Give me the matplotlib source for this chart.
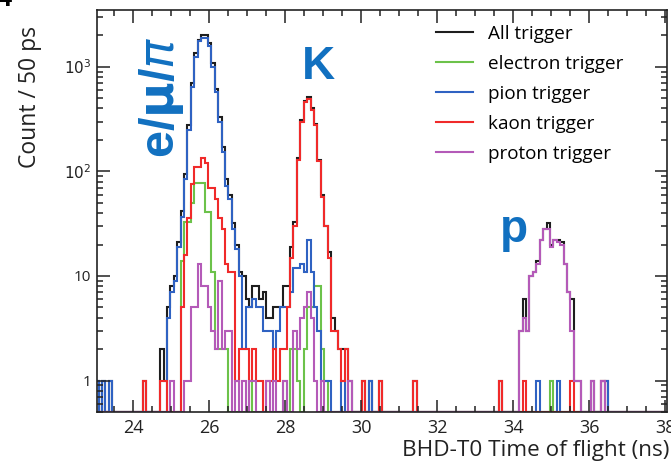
import numpy as np
import matplotlib.pyplot as plt
from matplotlib.lines import Line2D
from matplotlib.ticker import FixedLocator, FixedFormatter, MultipleLocator, LogLocator, NullFormatter

plt.rcParams['font.family'] = ['Open Sans', 'DejaVu Sans']

# histogram binning (ns)
t_start = 23.0
bin_width = 0.09

# counts per bin
all_trig = [
    1, 0, 1, 0, 1, 0, 0, 0, 0, 0,
    0, 0, 0, 0, 1, 0, 0, 0, 0, 2,
    1, 5, 8, 10, 21, 42, 95, 280, 700, 1350,
    1800, 2000, 2000, 1700, 1100, 620, 330, 170, 85, 60,
    32, 20, 11, 10, 6, 5, 8, 8, 6, 7,
    4, 4, 5, 5, 5, 8, 8, 19, 33, 135,
    310, 470, 510, 400, 285, 130, 60, 30, 17, 4,
    3, 2, 2, 2, 1, 0, 0, 0, 1, 0,
    1, 0, 0, 1, 0, 0, 0, 0, 0, 0,
    0, 0, 0, 1, 0, 0, 0, 0, 0, 0,
    0, 0, 0, 0, 0, 0, 0, 0, 0, 0,
    0, 0, 0, 0, 0, 0, 0, 0, 1, 0,
    0, 0, 0, 0, 3, 6, 3, 10, 11, 14,
    22, 28, 32, 20, 22, 22, 21, 13, 7, 6,
    1, 1, 0, 0, 0, 1, 0, 0, 1, 1,
    0, 0, 0, 0, 0, 0, 0, 0, 0, 0,
    0, 0, 0, 0, 0, 0, 0,
]
electron = [
    0, 0, 0, 0, 0, 0, 0, 0, 0, 0,
    0, 0, 0, 0, 0, 0, 0, 0, 0, 0,
    0, 0, 0, 0, 0, 14, 33, 33, 50, 78,
    78, 78, 41, 41, 11, 2, 2, 2, 2, 0,
    0, 0, 0, 0, 0, 1, 0, 0, 0, 0,
    0, 0, 0, 0, 0, 1, 0, 2, 2, 1,
    0, 2, 5, 5, 8, 8, 2, 1, 0, 0,
    0, 0, 0, 0, 0, 0, 0, 0, 0, 0,
    0, 0, 0, 0, 0, 0, 0, 0, 0, 0,
    0, 0, 0, 0, 0, 0, 0, 0, 0, 0,
    0, 0, 0, 0, 0, 0, 0, 0, 0, 0,
    0, 0, 0, 0, 0, 0, 0, 0, 0, 0,
    0, 0, 0, 0, 0, 0, 0, 0, 0, 0,
    0, 0, 0, 1, 0, 0, 0, 0, 0, 0,
    0, 0, 0, 0, 0, 0, 0, 0, 0, 0,
    0, 0, 0, 0, 0, 0, 0, 0, 0, 0,
    0, 0, 0, 0, 0, 0, 0,
]
pion = [
    1, 0, 1, 0, 1, 0, 0, 0, 0, 0,
    0, 0, 0, 0, 0, 0, 0, 0, 0, 0,
    0, 4, 7, 9, 19, 37, 84, 250, 640, 1250,
    1750, 1900, 1900, 1600, 1000, 575, 300, 155, 72, 54,
    28, 18, 10, 2, 5, 5, 6, 5, 5, 3,
    3, 3, 2, 3, 5, 5, 5, 7, 12, 12,
    13, 11, 22, 11, 5, 3, 1, 1, 1, 0,
    0, 0, 1, 0, 0, 0, 0, 0, 0, 0,
    1, 0, 0, 0, 0, 0, 0, 0, 0, 0,
    0, 0, 0, 0, 0, 0, 0, 0, 0, 0,
    0, 0, 0, 0, 0, 0, 0, 0, 0, 0,
    0, 0, 0, 0, 0, 0, 0, 0, 0, 0,
    0, 0, 0, 0, 0, 0, 0, 0, 0, 1,
    0, 0, 0, 0, 0, 1, 0, 0, 0, 0,
    0, 0, 0, 0, 0, 0, 0, 0, 0, 1,
    0, 0, 0, 0, 0, 0, 0, 0, 0, 0,
    0, 0, 0, 0, 0, 0, 0,
]
kaon = [
    0, 0, 0, 0, 0, 0, 0, 0, 0, 0,
    0, 0, 0, 0, 1, 0, 0, 0, 0, 1,
    1, 0, 0, 0, 0, 5, 16, 36, 75, 110,
    110, 133, 120, 70, 70, 54, 36, 28, 13, 11,
    11, 1, 2, 2, 2, 1, 2, 1, 1, 0,
    1, 1, 2, 1, 2, 2, 5, 15, 30, 130,
    300, 460, 490, 390, 280, 125, 57, 30, 15, 3,
    3, 2, 1, 2, 0, 0, 0, 0, 1, 0,
    0, 0, 0, 1, 0, 0, 0, 0, 0, 0,
    0, 0, 0, 1, 0, 0, 0, 0, 0, 0,
    0, 0, 0, 0, 0, 0, 0, 0, 0, 0,
    0, 0, 0, 0, 0, 0, 0, 0, 1, 0,
    0, 0, 0, 0, 0, 1, 0, 0, 0, 0,
    0, 0, 0, 0, 0, 0, 0, 0, 0, 1,
    0, 0, 0, 0, 0, 0, 0, 0, 1, 0,
    0, 0, 0, 0, 0, 0, 0, 0, 0, 0,
    0, 0, 0, 0, 0, 0, 0,
]
proton = [
    0, 0, 0, 0, 0, 0, 0, 0, 0, 0,
    0, 0, 0, 0, 0, 0, 0, 0, 0, 0,
    0, 0, 1, 0, 0, 0, 1, 1, 5, 5,
    13, 8, 8, 5, 3, 2, 9, 2, 3, 3,
    0, 1, 0, 1, 0, 1, 1, 0, 0, 0,
    1, 0, 1, 0, 0, 1, 0, 0, 3, 2,
    4, 5, 7, 4, 1, 0, 1, 0, 0, 0,
    0, 0, 0, 0, 1, 0, 0, 0, 0, 0,
    0, 0, 0, 0, 0, 0, 0, 0, 0, 0,
    0, 0, 0, 0, 0, 0, 0, 0, 0, 0,
    0, 0, 0, 0, 0, 0, 0, 0, 0, 0,
    0, 0, 0, 0, 0, 0, 0, 0, 0, 0,
    0, 0, 0, 0, 3, 4, 3, 10, 11, 13,
    22, 28, 28, 19, 22, 21, 20, 13, 7, 3,
    1, 1, 0, 0, 0, 1, 0, 0, 1, 0,
    0, 0, 0, 0, 0, 0, 0, 0, 0, 0,
    0, 0, 0, 0, 0, 0, 0,
]

series_labels = ['All trigger', 'electron trigger', 'pion trigger', 'kaon trigger', 'proton trigger']
series_colors = ['#1e1e1e', '#6cc24a', '#2f62c2', '#f02a2a', '#b45ab8']

x_ticks = [24, 26, 28, 30, 32, 34, 36, 38]
y_ticks = [1, 10, 100, 1000]
y_tick_labels = ['1', '10', r'$10^2$', r'$10^3$']

W, H = 671, 465
fig = plt.figure(figsize=(W / 100, H / 100), dpi=100)
ax = fig.add_axes([97 / W, 1 - 412 / H, 570 / W, 402 / H])

ymin = 0.5
edges = t_start + bin_width * np.arange(len(all_trig) + 1)
for vals, col in zip([all_trig, electron, pion, kaon, proton], series_colors):
    v = np.array(vals, dtype=float)
    v[v <= 0] = ymin
    ax.stairs(v, edges, baseline=None, color=col, lw=1.5)

ax.set_yscale('log')
ax.set_xlim(23.05, 38.05)
ax.set_ylim(ymin, 3500)

ax.xaxis.set_major_locator(FixedLocator(x_ticks))
ax.xaxis.set_minor_locator(MultipleLocator(0.5))
ax.yaxis.set_major_locator(FixedLocator(y_ticks))
ax.yaxis.set_major_formatter(FixedFormatter(y_tick_labels))
ax.yaxis.set_minor_locator(LogLocator(base=10, subs=np.arange(2, 10)))
ax.yaxis.set_minor_formatter(NullFormatter())
ax.tick_params(which='both', direction='in', top=True, right=True, width=1.1, color='#222222')
ax.tick_params(which='major', length=9)
ax.tick_params(which='minor', length=4.5)
ax.tick_params(axis='x', labelsize=13, pad=5, labelcolor='#222222')
ax.tick_params(axis='y', labelsize=11, pad=4, labelcolor='#222222')
for s in ax.spines.values():
    s.set_linewidth(1.2)
    s.set_color('#222222')

handles = [Line2D([], [], color=c, lw=1.5) for c in series_colors]
ax.legend(handles, series_labels, loc='upper left', bbox_to_anchor=((436 - 97) / 570, (412 - 25) / 402),
          frameon=False, fontsize=13.6, handlelength=1.95, handletextpad=0.8,
          labelspacing=0.63, borderpad=0, borderaxespad=0)

blue_txt = '#1170c0'
fig.text(162 / W, 1 - 97 / H, r'e/$\mathbf{\mu}$/$\pi$', rotation=90, ha='center', va='center',
         fontsize=35, fontweight='bold', color=blue_txt, family='Liberation Sans')
fig.text(318 / W, 1 - 67 / H, 'K', ha='center', va='center', fontsize=33,
         fontweight='bold', color=blue_txt, family='Liberation Sans')
fig.text(514 / W, 1 - 230 / H, 'p', ha='center', va='center', fontsize=33,
         fontweight='bold', color=blue_txt, family='Liberation Sans')

fig.text(30 / W, 1 - 97 / H, 'Count / 50 ps', rotation=90, ha='center', va='center',
         fontsize=16.5, color='#222222')
fig.text(669 / W, 1 - 450 / H, 'BHD-T0 Time of flight (ns)', ha='right', va='center',
         fontsize=16.2, color='#222222')
fig.text(-2 / W, 1.0, '4', ha='left', va='center', fontsize=18, fontweight='bold')

fig.savefig('out.png', dpi=100)
